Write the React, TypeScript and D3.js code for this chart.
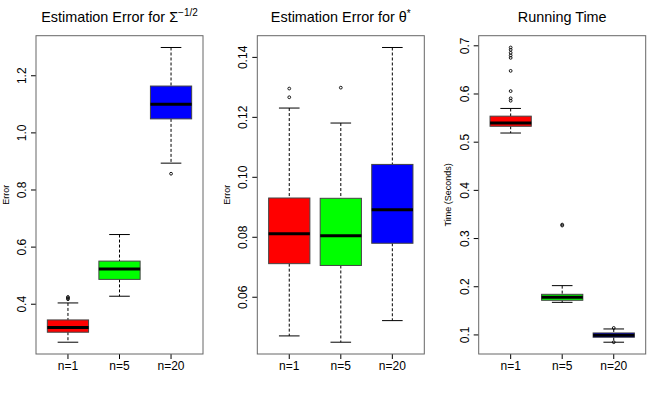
import React from 'react';
import * as d3 from 'd3';

const categories = ['n=1', 'n=5', 'n=20'];
const boxColors = ['#ff0000', '#00ff00', '#0000ff'];

// Panel 1: Estimation Error for Sigma^{-1/2}
const sigmaLowWhisker = [0.267, 0.428, 0.894];
const sigmaQ1 = [0.302, 0.487, 1.049];
const sigmaMedian = [0.3185, 0.523, 1.1];
const sigmaQ3 = [0.345, 0.551, 1.164];
const sigmaHighWhisker = [0.4045, 0.644, 1.299];
const sigmaOutliers = [[0.4175, 0.4215, 0.4255], [], [0.857]];
const sigmaTicks = [0.4, 0.6, 0.8, 1.0, 1.2];

// Panel 2: Estimation Error for theta*
const thetaLowWhisker = [0.0471, 0.045, 0.0522];
const thetaQ1 = [0.0712, 0.0706, 0.078];
const thetaMedian = [0.0812, 0.0805, 0.0892];
const thetaQ3 = [0.0931, 0.093, 0.1043];
const thetaHighWhisker = [0.1231, 0.1181, 0.1433];
const thetaOutliers = [[0.1267, 0.1296], [0.1299], []];
const thetaTicks = [0.06, 0.08, 0.1, 0.12, 0.14];

// Panel 3: Running Time
const timeLowWhisker = [0.519, 0.1676, 0.0849];
const timeQ1 = [0.533, 0.1719, 0.0952];
const timeMedian = [0.54, 0.178, 0.0995];
const timeQ3 = [0.554, 0.1843, 0.1041];
const timeHighWhisker = [0.57, 0.2023, 0.1124];
const timeOutliers = [
  [0.586, 0.591, 0.606, 0.648, 0.675, 0.68, 0.6855, 0.6917, 0.6965],
  [0.327, 0.329],
  [0.0849, 0.1145],
];
const timeTicks = [0.1, 0.2, 0.3, 0.4, 0.5, 0.6, 0.7];

const FONT = '"Liberation Sans", Arial, Helvetica, sans-serif';
const TOP = 35.7;
const BOTTOM = 354;

type PanelProps = {
  left: number;
  right: number;
  title: React.ReactNode;
  ylab: string;
  low: number[];
  q1: number[];
  med: number[];
  q3: number[];
  high: number[];
  outliers: number[][];
  ticks: number[];
  fmt: string;
};

function Panel(p: PanelProps) {
  const all = [...p.low, ...p.high, ...p.outliers.flat()];
  const lo = d3.min(all) as number;
  const hi = d3.max(all) as number;
  const pad = (hi - lo) * 0.04;
  const y = d3.scaleLinear().domain([lo - pad, hi + pad]).range([BOTTOM, TOP]);
  const x = d3.scaleLinear().domain([0.38, 3.62]).range([p.left, p.right]);
  const unit = x(1) - x(0);
  const boxW = unit * 0.8;
  const stapleW = boxW * 0.5;
  const f = d3.format(p.fmt);
  const cx = (p.left + p.right) / 2;
  const cy = (TOP + BOTTOM) / 2;
  return (
    <g>
      <text x={cx} y={22} textAnchor="middle" fontSize={14.4} fontFamily={FONT} fill="#000">
        {p.title}
      </text>
      <text
        transform={`translate(${p.left - 27.5},${cy}) rotate(-90)`}
        textAnchor="middle"
        fontSize={9}
        fontFamily={FONT}
        fill="#000"
      >
        {p.ylab}
      </text>
      {p.ticks.map((t) => (
        <g key={t}>
          <line x1={p.left - 5} x2={p.left} y1={y(t)} y2={y(t)} stroke="#000" />
          <text
            transform={`translate(${p.left - 10},${y(t)}) rotate(-90)`}
            textAnchor="middle"
            fontSize={12}
            fontFamily={FONT}
            fill="#000"
          >
            {f(t)}
          </text>
        </g>
      ))}
      {categories.map((c, i) => (
        <g key={c}>
          <line x1={x(i + 1)} x2={x(i + 1)} y1={BOTTOM} y2={BOTTOM + 5} stroke="#000" />
          <text x={x(i + 1)} y={BOTTOM + 16} textAnchor="middle" fontSize={12} fontFamily={FONT} fill="#000">
            {c}
          </text>
        </g>
      ))}
      {categories.map((c, i) => {
        const xc = x(i + 1);
        return (
          <g key={'b' + c}>
            <line x1={xc} x2={xc} y1={y(p.high[i])} y2={y(p.q3[i])} stroke="#000" strokeDasharray="3,2" />
            <line x1={xc} x2={xc} y1={y(p.q1[i])} y2={y(p.low[i])} stroke="#000" strokeDasharray="3,2" />
            <line x1={xc - stapleW / 2} x2={xc + stapleW / 2} y1={y(p.high[i])} y2={y(p.high[i])} stroke="#000" />
            <line x1={xc - stapleW / 2} x2={xc + stapleW / 2} y1={y(p.low[i])} y2={y(p.low[i])} stroke="#000" />
            <rect
              x={xc - boxW / 2}
              y={y(p.q3[i])}
              width={boxW}
              height={y(p.q1[i]) - y(p.q3[i])}
              fill={boxColors[i]}
              stroke="#444"
            />
            <line x1={xc - boxW / 2} x2={xc + boxW / 2} y1={y(p.med[i])} y2={y(p.med[i])} stroke="#000" strokeWidth={3} />
            {p.outliers[i].map((o, k) => (
              <circle key={k} cx={xc} cy={y(o)} r={1.4} fill="none" stroke="#000" strokeWidth={0.9} />
            ))}
          </g>
        );
      })}
      <rect x={p.left} y={TOP} width={p.right - p.left} height={BOTTOM - TOP} fill="none" stroke="#666" />
    </g>
  );
}

export default function App() {
  return (
    <svg
      width={664}
      height={399}
      style={{ position: 'absolute', left: 0, top: 0, background: '#fff' }}
    >
      <rect width={664} height={399} fill="#fff" />
      <Panel
        left={36}
        right={203}
        title={
          <>
            Estimation Error for Σ
            <tspan dy={-6} fontSize={10}>−1/2</tspan>
          </>
        }
        ylab="Error"
        low={sigmaLowWhisker}
        q1={sigmaQ1}
        med={sigmaMedian}
        q3={sigmaQ3}
        high={sigmaHighWhisker}
        outliers={sigmaOutliers}
        ticks={sigmaTicks}
        fmt=".1f"
      />
      <Panel
        left={257.3}
        right={424.3}
        title={
          <>
            Estimation Error for θ
            <tspan dy={-5} fontSize={10}>*</tspan>
          </>
        }
        ylab="Error"
        low={thetaLowWhisker}
        q1={thetaQ1}
        med={thetaMedian}
        q3={thetaQ3}
        high={thetaHighWhisker}
        outliers={thetaOutliers}
        ticks={thetaTicks}
        fmt=".2f"
      />
      <Panel
        left={478.7}
        right={645.7}
        title="Running Time"
        ylab="Time (Seconds)"
        low={timeLowWhisker}
        q1={timeQ1}
        med={timeMedian}
        q3={timeQ3}
        high={timeHighWhisker}
        outliers={timeOutliers}
        ticks={timeTicks}
        fmt=".1f"
      />
    </svg>
  );
}
